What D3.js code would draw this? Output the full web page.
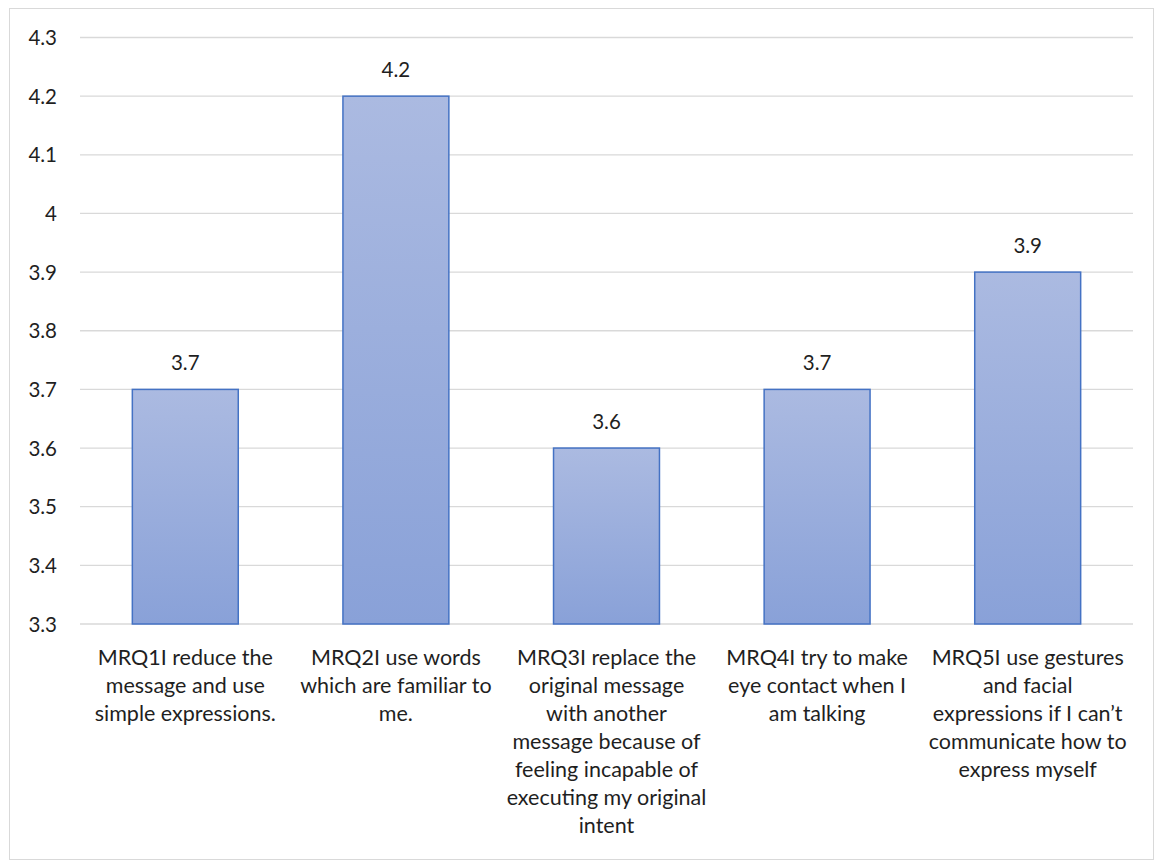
<!DOCTYPE html>
<html>
<head>
<meta charset="utf-8">
<script src="https://cdn.jsdelivr.net/npm/d3@7"></script>
<style>
  html, body { margin: 0; padding: 0; background: #fff; }
  svg { display: block; }
  text { font-family: Lato, "Open Sans", sans-serif; fill: #1f1f1f; }
</style>
</head>
<body>
<svg id="chart" width="1155" height="861"></svg>
<script>
// Mean agreement scores per survey item
const categories = ["MRQ1", "MRQ2", "MRQ3", "MRQ4", "MRQ5"];
const categoryLines = [
  ["MRQ1I reduce the", "message and use", "simple expressions."],
  ["MRQ2I use words", "which are familiar to", "me."],
  ["MRQ3I replace the", "original message", "with another", "message because of", "feeling incapable of", "executing my original", "intent"],
  ["MRQ4I try to make", "eye contact when I", "am talking"],
  ["MRQ5I use gestures", "and facial", "expressions if I can\u2019t", "communicate how to", "express myself"]
];
const values = [3.7, 4.2, 3.6, 3.7, 3.9];
const valueLabels = ["3.7", "4.2", "3.6", "3.7", "3.9"];
const yTicks = [3.3, 3.4, 3.5, 3.6, 3.7, 3.8, 3.9, 4.0, 4.1, 4.2, 4.3];
const yTickLabels = ["3.3", "3.4", "3.5", "3.6", "3.7", "3.8", "3.9", "4", "4.1", "4.2", "4.3"];

const svg = d3.select("#chart");
const W = 1155, H = 861;
const plot = { left: 80, right: 1133, top: 37.5, bottom: 624 };

// Outer chart frame
svg.append("rect")
  .attr("x", 9.5).attr("y", 8.5)
  .attr("width", W - 11).attr("height", H - 10)
  .attr("fill", "#fff").attr("stroke", "#d9d9d9").attr("stroke-width", 1);

const defs = svg.append("defs");
const grad = defs.append("linearGradient")
  .attr("id", "barFill").attr("x1", 0).attr("y1", 0).attr("x2", 0).attr("y2", 1);
grad.append("stop").attr("offset", "0%").attr("stop-color", "#abbae1");
grad.append("stop").attr("offset", "100%").attr("stop-color", "#89a1d8");

const x = d3.scaleBand().domain(categories).range([plot.left, plot.right]).paddingInner(0.497).paddingOuter(0.2485);
const y = d3.scaleLinear().domain([3.3, 4.3]).range([plot.bottom, plot.top]);

// Horizontal gridlines
svg.append("g").selectAll("line").data(yTicks).join("line")
  .attr("x1", plot.left).attr("x2", plot.right)
  .attr("y1", d => y(d)).attr("y2", d => y(d))
  .attr("stroke", "#d9d9d9").attr("stroke-width", 1.3);

// Y axis labels
const yAxis = d3.axisLeft(y).tickValues(yTicks).tickSize(0).tickPadding(0)
  .tickFormat((d, i) => yTickLabels[i]);
const gy = svg.append("g").attr("transform", `translate(57,0)`).call(yAxis);
gy.select(".domain").remove();
gy.selectAll("text").attr("font-size", 20.5).attr("font-family", "Lato, sans-serif").attr("fill", "#1f1f1f").attr("dy", "0.35em");

// Bars
svg.append("g").selectAll("rect").data(values).join("rect")
  .attr("x", (d, i) => x(categories[i]))
  .attr("y", d => y(d))
  .attr("width", x.bandwidth())
  .attr("height", d => y(3.3) - y(d))
  .attr("fill", "url(#barFill)")
  .attr("stroke", "#4472c4").attr("stroke-width", 1.5);

// Value labels above bars
svg.append("g").selectAll("text").data(values).join("text")
  .attr("x", (d, i) => x(categories[i]) + x.bandwidth() / 2)
  .attr("y", d => y(d) - 19)
  .attr("text-anchor", "middle").attr("font-size", 20.5)
  .text((d, i) => valueLabels[i]);

// Category labels, wrapped
const cat = svg.append("g").selectAll("text").data(categoryLines).join("text")
  .attr("text-anchor", "middle").attr("font-size", 21.5);
cat.each(function(lines, i) {
  const cx = x(categories[i]) + x.bandwidth() / 2;
  d3.select(this).selectAll("tspan").data(lines).join("tspan")
    .attr("x", cx).attr("y", (l, j) => 665 + j * 28)
    .text(l => l);
});
</script>
</body>
</html>
